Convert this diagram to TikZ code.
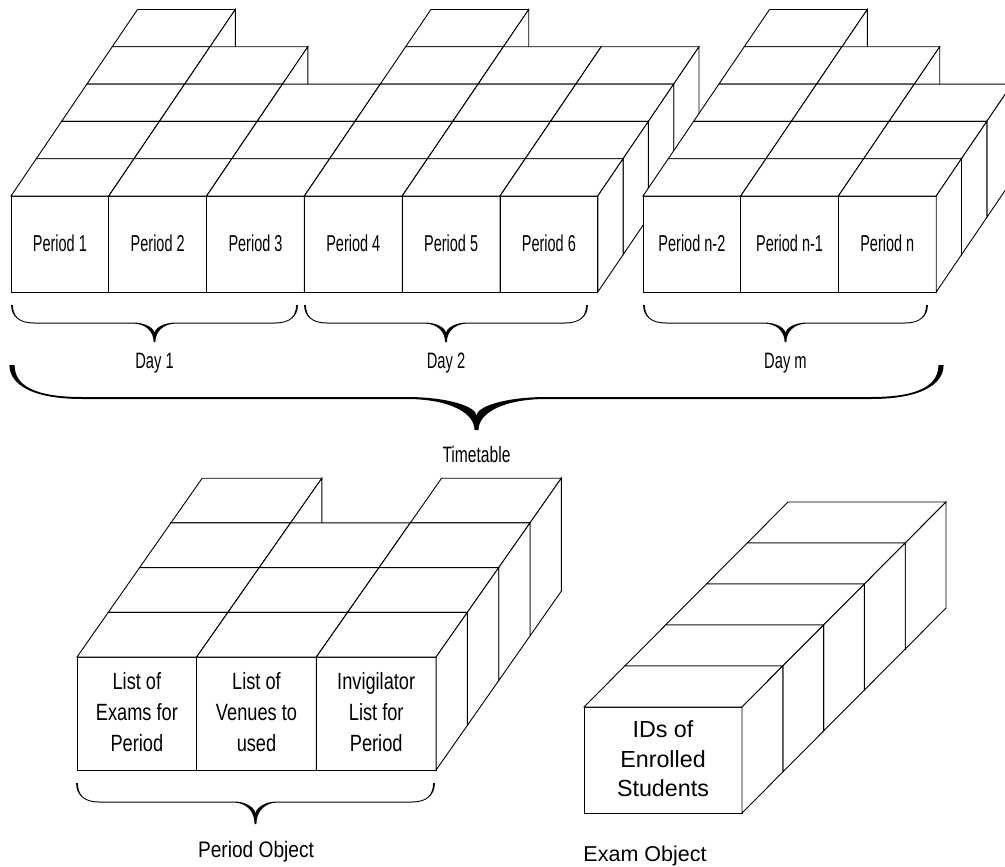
\documentclass[tikz,border=0pt]{standalone}
\usepackage{fontspec}
\setmainfont{Liberation Sans}
\newfontfamily\perfont[FakeStretch=0.63]{Liberation Sans}
\newfontfamily\dayfont[FakeStretch=0.66]{Liberation Sans}
\newfontfamily\ttfont[FakeStretch=0.7]{Liberation Sans}
\newfontfamily\pofont[FakeStretch=0.775]{Liberation Sans}
\newfontfamily\polabfont[FakeStretch=0.85]{Liberation Sans}

% #1 x of front-left, #2 y of front-top, #3 width, #4 height, #5 depth dx, #6 depth dy
\newcommand{\cubebox}[6]{%
  \filldraw[boxline] ({#1},{#2}) rectangle ({#1+#3},{#2+#4});
  \filldraw[boxline] ({#1},{#2}) -- ({#1+#5},{#2-#6}) -- ({#1+#3+#5},{#2-#6}) -- ({#1+#3},{#2}) -- cycle;
  \filldraw[boxline] ({#1+#3},{#2}) -- ({#1+#3+#5},{#2-#6}) -- ({#1+#3+#5},{#2-#6+#4}) -- ({#1+#3},{#2+#4}) -- cycle;
}
% tapered curly brace: #1 x0, #2 x1, #3 ytop, #4 y of straight part, #5 y of tip,
% #6 half width at ends, #7 half width in middle, #8 half width at tip, #9 curl length
\newcommand{\tbrace}[9]{%
  \pgfmathsetmacro{\bxm}{(#1+#2)/2}
  \pgfmathsetmacro{\bya}{#3+0.6*(#4-#3)}
  \pgfmathsetmacro{\byb}{#4+0.45*(#5-#4)}
  \pgfmathsetmacro{\byd}{#5-0.45*(#5-#4)}
  \pgfmathsetmacro{\byc}{\byd-0.5*(\byd-#4)}
  \fill ({#1-#6},{#3}) .. controls ({#1-#6},{\bya}) and ({#1+0.3*#9},{#4+#7}) .. ({#1+#9},{#4+#7})
    -- ({\bxm-#9},{#4+#7}) .. controls ({\bxm-0.4*#9},{#4+#7}) and ({\bxm-#8},{\byb}) .. ({\bxm-#8},{#5})
    -- ({\bxm+#8},{#5}) .. controls ({\bxm+#8},{\byb}) and ({\bxm+0.4*#9},{#4+#7}) .. ({\bxm+#9},{#4+#7})
    -- ({#2-#9},{#4+#7}) .. controls ({#2-0.3*#9},{#4+#7}) and ({#2+#6},{\bya}) .. ({#2+#6},{#3})
    -- ({#2-#6},{#3}) .. controls ({#2-#6},{\bya}) and ({#2-0.3*#9},{#4-#7}) .. ({#2-#9},{#4-#7})
    -- ({\bxm+#9},{#4-#7}) .. controls ({\bxm+0.4*#9},{#4-#7}) and ({\bxm},{\byc}) .. ({\bxm},{\byd})
    .. controls ({\bxm},{\byc}) and ({\bxm-0.4*#9},{#4-#7}) .. ({\bxm-#9},{#4-#7})
    -- ({#1+#9},{#4-#7}) .. controls ({#1+0.3*#9},{#4-#7}) and ({#1+#6},{\bya}) .. ({#1+#6},{#3}) -- cycle;
}

\begin{document}
\begin{tikzpicture}[x=1pt,y=-1pt,
  boxline/.style={fill=white,draw=black,line width=0.9pt},
  perlab/.style={font=\perfont\fontsize{23}{28}\selectfont,inner sep=0pt},
  daylab/.style={font=\dayfont\fontsize{22.3}{27}\selectfont,inner sep=0pt,anchor=base},
  ttlab/.style={font=\ttfont\fontsize{22.3}{27}\selectfont,inner sep=0pt,anchor=base},
  polab/.style={font=\pofont\fontsize{23.5}{31}\selectfont,inner sep=0pt,align=center},
  idlab/.style={font=\fontsize{23.3}{29.5}\selectfont,inner sep=0pt,align=center},
  objlab/.style={font=\polabfont\fontsize{22.5}{28}\selectfont,inner sep=0pt,anchor=base},
  exlab/.style={font=\fontsize{21.5}{26}\selectfont,inner sep=0pt,anchor=base}]
\useasboundingbox (0,0) rectangle (1005,867);

% ---------- Timetable blocks (drawn back to front) ----------
\foreach \k in {4,3,2,1,0}{
  \foreach \x/\d in {11/5,108.8/4,206.6/3,304.4/5,402.2/4,500/4,643/5,740.7/4,838.4/3}{
    \ifnum\k<\d\relax \cubebox{\x+\k*25.3}{196-\k*37.3}{97.8}{96}{25.3}{37.3}\fi
  }
}
\node[perlab] (p1) at (59.9,243.5) {Period 1};
\node[perlab] (p2) at (157.7,243.5) {Period 2};
\node[perlab] (p3) at (255.5,243.5) {Period 3};
\node[perlab] (p4) at (353.3,243.5) {Period 4};
\node[perlab] (p5) at (451.1,243.5) {Period 5};
\node[perlab] (p6) at (548.9,243.5) {Period 6};
\node[perlab] (pn2) at (691.9,243.5) {Period n-2};
\node[perlab] (pn1) at (789.6,243.5) {Period n-1};
\node[perlab] (pn) at (887.3,243.5) {Period n};

% braces for days and timetable
\tbrace{12}{297}{305}{323}{342}{0.9}{0.5}{0.9}{22}
\tbrace{305}{587}{305}{323}{342}{0.9}{0.5}{0.9}{22}
\tbrace{644}{927}{305}{323}{342}{0.9}{0.5}{0.9}{22}
\node[daylab] (d1) at (154.5,368) {Day 1};
\node[daylab] (d2) at (446,368) {Day 2};
\node[daylab] (dm) at (785.5,368) {Day m};
\tbrace{12}{941}{365}{398}{430}{2.6}{1}{2}{70}
\node[ttlab] (tt) at (476.5,462) {Timetable};

% ---------- Period object ----------
\foreach \k in {3,2,1,0}{
  \foreach \x/\d in {77/4,196.7/3,316.4/4}{
    \ifnum\k<\d\relax \cubebox{\x+\k*31.3}{657-\k*44.7}{119.7}{113}{31.3}{44.7}\fi
  }
}
\node[polab] (pa) at (136.9,712.5) {List of\\Exams for\\Period};
\node[polab] (pb) at (256.5,712.5) {List of\\Venues to\\used};
\node[polab] (pc) at (376.2,712.5) {Invigilator\\List for\\Period};
\tbrace{77}{434}{783}{802}{824}{0.9}{0.5}{0.9}{22}
\node[objlab] (po) at (256,857) {Period Object};

% ---------- Exam object ----------
\foreach \k in {4,3,2,1,0}{
  \cubebox{584+\k*40.8}{707-\k*41}{158}{106}{40.8}{41}
}
\node[idlab] (ids) at (663,759) {IDs of\\Enrolled\\Students};
\node[exlab] (eo) at (645,861) {Exam Object};
\end{tikzpicture}
\end{document}
